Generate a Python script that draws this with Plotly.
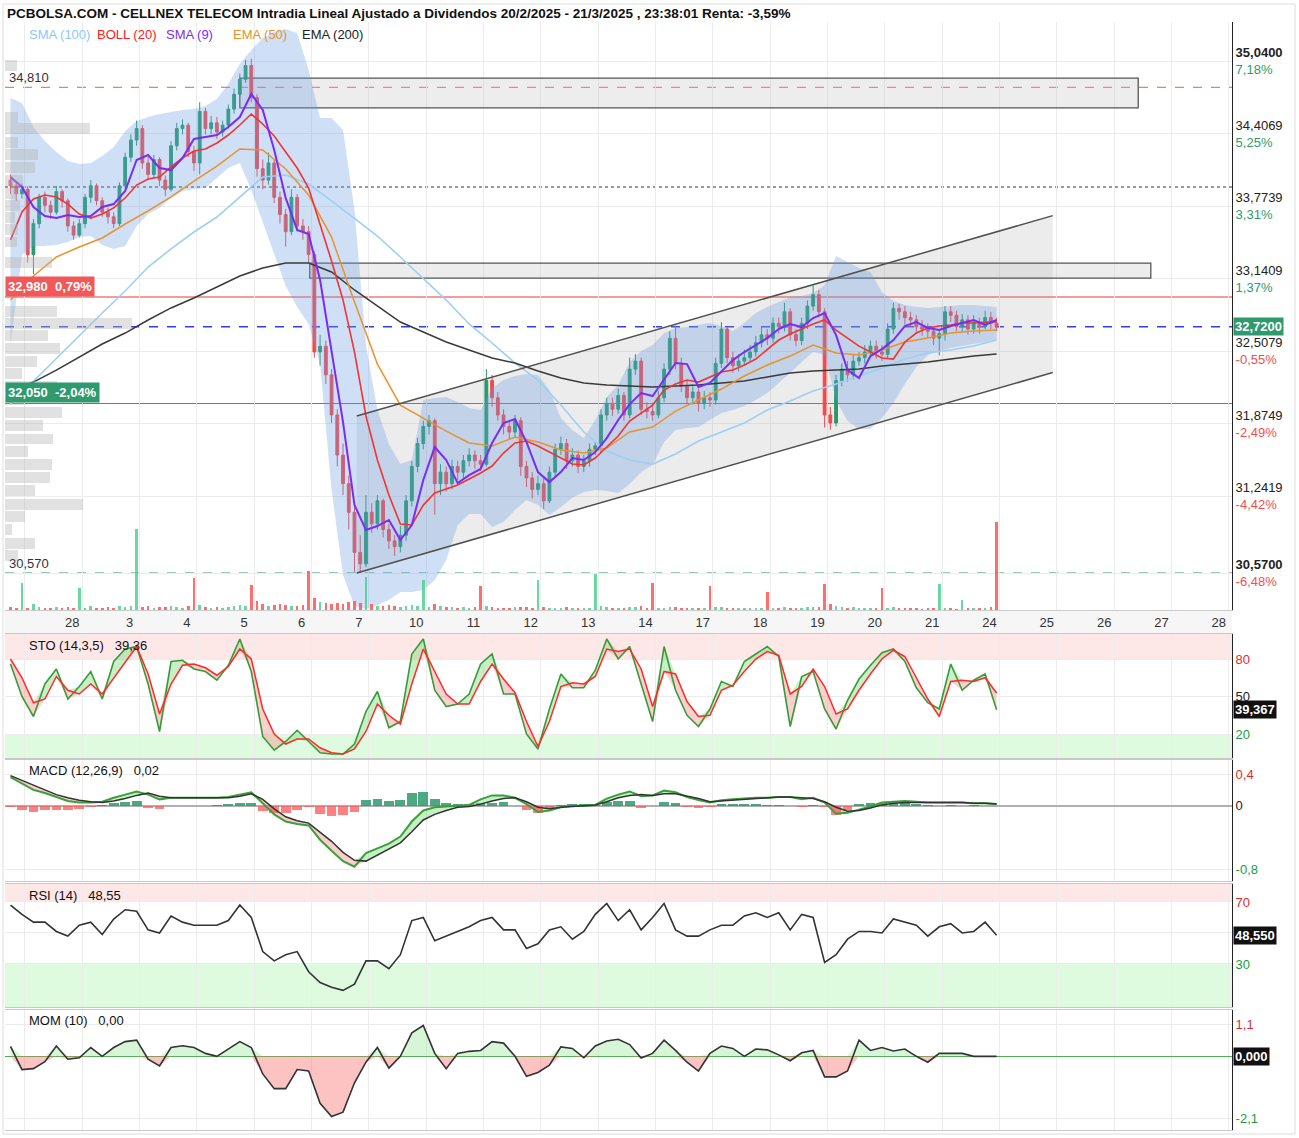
import plotly.graph_objects as go

# ---------------- data ----------------
day_labels = ["28", "3", "4", "5", "6", "7", "10", "11", "12", "13", "14",
              "17", "18", "19", "20", "21", "24", "25", "26", "27", "28"]

first_open = 34.00
close = [33.95, 33.88, 33.92, 33.35, 33.62, 33.85, 33.78, 33.72, 33.90, 33.82,
         33.60, 33.52, 33.62, 33.85, 33.95, 33.82, 33.72, 33.68, 33.62, 33.95,
         34.20, 34.35, 34.45, 34.15, 34.05, 34.18, 34.00, 33.92, 34.30, 34.45,
         34.48, 34.25, 34.15, 34.60, 34.45, 34.50, 34.42, 34.48, 34.62, 34.75,
         34.88, 35.00, 34.72, 34.10, 34.00, 34.15, 33.85, 33.70, 33.55, 33.85,
         33.60, 33.55, 33.35, 32.50, 32.55, 32.30, 31.95, 31.60, 31.35, 31.10,
         30.75, 30.65, 31.10, 31.00, 31.20, 30.95, 30.85, 30.80, 30.90, 31.20,
         31.50, 31.70, 31.85, 31.90, 31.35, 31.45, 31.35, 31.50, 31.45, 31.55,
         31.60, 31.55, 31.52, 32.25, 32.10, 31.95, 31.85, 31.80, 31.90, 31.50,
         31.40, 31.30, 31.35, 31.20, 31.45, 31.65, 31.70, 31.55, 31.60, 31.50,
         31.55, 31.65, 31.68, 31.95, 32.05, 32.00, 32.12, 31.95, 32.35, 32.42,
         32.00, 31.98, 31.95, 32.10, 32.35, 32.62, 32.40, 32.20, 32.10, 32.15,
         32.05, 32.10, 32.08, 32.40, 32.70, 32.45, 32.38, 32.42, 32.45, 32.50,
         32.58, 32.65, 32.62, 32.75, 32.72, 32.85, 32.65, 32.60, 32.75, 32.90,
         33.00, 32.85, 31.95, 31.88, 32.25, 32.35, 32.30, 32.42, 32.45, 32.50,
         32.55, 32.50, 32.48, 32.70, 32.88, 32.85, 32.80, 32.78, 32.72, 32.70,
         32.68, 32.62, 32.66, 32.85, 32.82, 32.72, 32.78, 32.70, 32.76, 32.72,
         32.80, 32.75, 32.72]
high = [34.05, 33.98, 33.97, 33.95, 33.66, 33.88, 33.90, 33.82, 33.95, 33.92,
        33.84, 33.64, 33.66, 33.88, 34.00, 33.97, 33.85, 33.76, 33.72, 33.98,
        34.24, 34.40, 34.52, 34.48, 34.20, 34.22, 34.20, 34.04, 34.34, 34.50,
        34.53, 34.50, 34.30, 34.68, 34.63, 34.56, 34.55, 34.52, 34.66, 34.80,
        34.93, 35.05, 35.06, 34.75, 34.18, 34.24, 34.18, 33.90, 33.75, 33.92,
        33.88, 33.66, 33.60, 33.38, 32.65, 32.60, 32.35, 32.00, 31.70, 31.42,
        31.15, 30.90, 31.25, 31.18, 31.25, 31.22, 31.00, 30.90, 30.98, 31.25,
        31.55, 31.75, 31.90, 31.95, 31.92, 31.52, 31.50, 31.56, 31.55, 31.60,
        31.66, 31.64, 31.60, 32.35, 32.30, 32.15, 32.00, 31.90, 31.95, 31.93,
        31.55, 31.45, 31.42, 31.40, 31.50, 31.70, 31.76, 31.74, 31.66, 31.64,
        31.60, 31.70, 31.72, 32.00, 32.10, 32.10, 32.18, 32.15, 32.45, 32.48,
        32.45, 32.06, 32.04, 32.16, 32.40, 32.68, 32.73, 32.45, 32.25, 32.20,
        32.18, 32.16, 32.15, 32.45, 32.76, 32.72, 32.50, 32.48, 32.52, 32.56,
        32.64, 32.72, 32.70, 32.80, 32.80, 32.93, 32.88, 32.70, 32.80, 32.95,
        33.08, 33.04, 32.88, 32.02, 32.30, 32.40, 32.42, 32.48, 32.50, 32.56,
        32.60, 32.60, 32.56, 32.75, 32.93, 32.92, 32.90, 32.85, 32.82, 32.78,
        32.75, 32.72, 32.70, 32.90, 32.90, 32.86, 32.83, 32.82, 32.82, 32.80,
        32.86, 32.85, 32.80]
low = [33.88, 33.82, 33.84, 33.28, 33.18, 33.58, 33.72, 33.66, 33.70, 33.76,
       33.55, 33.48, 33.50, 33.58, 33.80, 33.78, 33.68, 33.62, 33.58, 33.60,
       33.92, 34.16, 34.30, 34.10, 34.00, 34.02, 33.95, 33.86, 33.90, 34.26,
       34.40, 34.20, 34.08, 34.05, 34.40, 34.40, 34.36, 34.38, 34.45, 34.58,
       34.72, 34.85, 34.68, 34.03, 33.92, 33.96, 33.80, 33.62, 33.42, 33.52,
       33.55, 33.48, 33.28, 32.45, 32.38, 32.22, 31.88, 31.50, 31.25, 30.95,
       30.58, 30.57, 30.62, 30.92, 30.95, 30.88, 30.78, 30.72, 30.75, 30.85,
       31.15, 31.45, 31.65, 31.78, 31.08, 31.25, 31.28, 31.30, 31.38, 31.40,
       31.50, 31.48, 31.46, 31.50, 32.02, 31.90, 31.78, 31.74, 31.75, 31.42,
       31.32, 31.22, 31.25, 31.13, 31.18, 31.40, 31.60, 31.48, 31.50, 31.44,
       31.45, 31.50, 31.60, 31.62, 31.90, 31.94, 31.96, 31.90, 31.92, 32.30,
       31.95, 31.92, 31.90, 31.92, 32.06, 32.30, 32.35, 32.15, 32.05, 32.04,
       31.98, 32.00, 32.02, 32.04, 32.36, 32.40, 32.32, 32.33, 32.38, 32.42,
       32.46, 32.54, 32.56, 32.58, 32.66, 32.68, 32.60, 32.55, 32.56, 32.70,
       32.86, 32.80, 31.84, 31.82, 31.85, 32.20, 32.24, 32.26, 32.38, 32.40,
       32.46, 32.44, 32.42, 32.44, 32.66, 32.78, 32.74, 32.72, 32.66, 32.64,
       32.62, 32.56, 32.47, 32.60, 32.76, 32.68, 32.68, 32.65, 32.66, 32.66,
       32.70, 32.70, 32.68]
volume = [30, 25, 270, 20, 60, 35, 25, 20, 30, 25,
          30, 25, 220, 25, 40, 20, 25, 30, 20, 45,
          35, 40, 810, 30, 45, 25, 30, 35, 40, 30,
          25, 40, 320, 50, 30, 25, 30, 20, 35, 45,
          50, 40, 250, 90, 60, 45, 55, 60, 50, 45,
          40, 55, 390, 120, 80, 70, 60, 75, 65, 80,
          90, 70, 330, 60, 45, 40, 50, 45, 35, 40,
          50, 40, 300, 30, 60, 40, 35, 30, 25, 30,
          25, 30, 240, 45, 30, 25, 20, 25, 30, 35,
          30, 25, 300, 30, 25, 20, 25, 30, 20, 25,
          25, 20, 360, 40, 30, 25, 20, 25, 35, 30,
          45, 25, 270, 20, 25, 30, 35, 25, 20, 25,
          20, 25, 240, 30, 35, 25, 20, 25, 20, 25,
          25, 20, 180, 20, 25, 30, 25, 20, 25, 30,
          35, 30, 260, 60, 45, 30, 25, 30, 25, 20,
          20, 25, 220, 20, 30, 25, 20, 25, 20, 15,
          20, 25, 260, 25, 20, 15, 100, 20, 25, 20,
          25, 30, 880]

# volume-at-price profile (left side)
profile_price = [35.00, 34.55, 34.45, 34.33, 34.22, 34.11, 34.00, 33.88, 33.78, 33.67,
                 33.57, 33.46, 33.28, 32.85, 32.75, 32.64, 32.53, 32.42, 32.31, 32.20,
                 32.08, 31.97, 31.86, 31.74, 31.63, 31.52, 31.40, 31.29, 31.17, 31.06,
                 30.95, 30.83, 30.72]
profile_vol = [12, 13, 85, 13, 33, 30, 18, 12, 15, 10,
               13, 12, 47, 52, 127, 43, 55, 32, 17, 52,
               20, 57, 38, 48, 23, 47, 45, 30, 78, 20,
               7, 30, 13]

# moving averages read every 4 bars
sma100 = [32.045, 32.246, 32.447, 32.639, 32.840, 33.032, 33.241, 33.399, 33.547, 33.678,
          33.853, 34.027, 34.045, 33.966, 33.818, 33.669, 33.512, 33.329, 33.145, 32.953,
          32.744, 32.578, 32.403, 32.255, 32.036, 31.801, 31.635, 31.556, 31.521, 31.609,
          31.722, 31.801, 31.879, 31.993, 32.071, 32.159, 32.220, 32.290, 32.359, 32.438,
          32.490, 32.517, 32.552, 32.604]
ema200 = [32.159, 32.237, 32.342, 32.456, 32.569, 32.665, 32.779, 32.884, 32.971, 33.067,
          33.163, 33.233, 33.277, 33.277, 33.198, 33.041, 32.901, 32.761, 32.674, 32.587,
          32.517, 32.447, 32.403, 32.333, 32.272, 32.229, 32.211, 32.202, 32.194, 32.202,
          32.211, 32.229, 32.246, 32.281, 32.316, 32.333, 32.342, 32.351, 32.377, 32.394,
          32.412, 32.438, 32.464, 32.482]
ema50 = [32.953, 33.163, 33.329, 33.416, 33.495, 33.617, 33.731, 33.853, 33.992, 34.123,
         34.272, 34.263, 34.097, 33.870, 33.503, 32.936, 32.394, 32.036, 31.923, 31.809,
         31.705, 31.679, 31.757, 31.713, 31.644, 31.618, 31.661, 31.801, 31.844, 31.984,
         32.080, 32.176, 32.290, 32.386, 32.464, 32.560, 32.490, 32.473, 32.517, 32.587,
         32.622, 32.665, 32.683, 32.691]

# read every 2 bars
sma9 = [34.027, 33.940, 33.765, 33.687, 33.669, 33.695, 33.678, 33.687, 33.765, 33.791,
        33.905, 34.176, 34.219, 34.106, 34.088, 34.193, 34.359, 34.376, 34.394, 34.464,
        34.551, 34.752, 34.612, 34.263, 33.844, 33.565, 33.530, 33.128, 32.517, 31.888,
        31.164, 30.945, 30.980, 31.033, 30.858, 30.989, 31.382, 31.670, 31.556, 31.355,
        31.425, 31.478, 31.705, 31.879, 31.914, 31.713, 31.451, 31.364, 31.451, 31.574,
        31.556, 31.626, 31.748, 31.906, 32.045, 32.141, 32.115, 32.255, 32.403, 32.394,
        32.194, 32.229, 32.325, 32.429, 32.499, 32.560, 32.621, 32.700, 32.744, 32.717,
        32.796, 32.839, 32.647, 32.342, 32.272, 32.464, 32.525, 32.604, 32.726, 32.761,
        32.709, 32.691, 32.726, 32.752, 32.779, 32.735, 32.779]
boll_mid = [33.477, 33.722, 33.835, 33.870, 33.853, 33.791, 33.704, 33.669, 33.704, 33.757,
            33.844, 33.957, 34.010, 34.027, 34.115, 34.193, 34.254, 34.272, 34.324, 34.394,
            34.481, 34.577, 34.490, 34.385, 34.245, 34.106, 33.931, 33.617, 33.294, 32.953,
            32.499, 31.941, 31.556, 31.251, 30.998, 30.989, 31.163, 31.268, 31.303, 31.338,
            31.390, 31.443, 31.504, 31.617, 31.705, 31.722, 31.679, 31.626, 31.574, 31.521,
            31.513, 31.574, 31.670, 31.766, 31.897, 31.967, 32.036, 32.167, 32.220, 32.255,
            32.237, 32.281, 32.325, 32.342, 32.386, 32.438, 32.517, 32.604, 32.656, 32.700,
            32.744, 32.779, 32.691, 32.621, 32.551, 32.499, 32.447, 32.438, 32.587, 32.665,
            32.709, 32.726, 32.735, 32.752, 32.752, 32.761, 32.761]
boll_up = [34.717, 34.673, 34.464, 34.341, 34.246, 34.167, 34.141, 34.150, 34.211, 34.289,
           34.429, 34.516, 34.551, 34.577, 34.595, 34.612, 34.621, 34.647, 34.708, 34.839,
           35.014, 35.136, 35.241, 35.293, 35.319, 35.285, 34.961, 34.542, 34.542, 34.437,
           33.739, 32.560, 31.993, 31.696, 31.521, 31.556, 32.080, 32.098, 32.106, 32.063,
           32.010, 31.993, 32.185, 32.255, 32.290, 32.307, 32.298, 32.167, 31.923, 31.818,
           31.748, 31.906, 32.106, 32.211, 32.412, 32.508, 32.560, 32.665, 32.709, 32.717,
           32.735, 32.752, 32.726, 32.683, 32.752, 32.840, 32.892, 32.936, 32.979, 32.988,
           33.014, 33.084, 33.337, 33.285, 33.233, 33.198, 33.023, 32.944, 32.909, 32.892,
           32.883, 32.892, 32.901, 32.909, 32.909, 32.901, 32.892]
boll_low = [32.560, 33.346, 33.425, 33.425, 33.433, 33.459, 33.503, 33.512, 33.433, 33.399,
            33.425, 33.599, 33.704, 33.757, 33.844, 33.905, 33.922, 33.931, 34.019, 34.106,
            34.150, 33.914, 33.634, 33.346, 33.076, 32.892, 32.744, 32.394, 31.294, 30.552,
            30.281, 30.255, 30.290, 30.334, 30.404, 30.404, 30.421, 30.509, 30.683, 30.989,
            31.085, 31.085, 30.971, 31.015, 31.120, 31.207, 31.163, 31.076, 31.146, 31.224,
            31.277, 31.294, 31.286, 31.268, 31.347, 31.451, 31.513, 31.714, 31.818, 31.836,
            31.844, 31.906, 31.967, 31.993, 32.028, 32.080, 32.141, 32.229, 32.316, 32.412,
            32.499, 32.473, 32.080, 31.897, 31.827, 31.827, 31.923, 32.054, 32.220, 32.368,
            32.473, 32.508, 32.534, 32.552, 32.569, 32.587, 32.604]

sto_k = [76, 50, 34, 60, 72, 48, 58, 70, 48, 78,
         88, 90, 60, 22, 78, 79, 72, 70, 63, 75,
         96, 70, 18, 7, 14, 23, 14, 5, 4, 4,
         12, 38, 54, 25, 30, 84, 96, 55, 42, 44,
         52, 76, 84, 52, 52, 20, 8, 40, 68, 57,
         57, 71, 96, 80, 90, 60, 30, 90, 55, 35,
         26, 40, 62, 58, 78, 84, 90, 82, 26, 66,
         70, 40, 24, 47, 64, 75, 85, 88, 78, 57,
         45, 40, 76, 55, 63, 68, 39.367]
sto_d = [80, 65, 45, 48, 66, 55, 52, 60, 52, 65,
         78, 90, 68, 36, 60, 75, 76, 73, 67, 74,
         88, 80, 40, 20, 12, 16, 16, 9, 5, 4,
         8, 22, 44, 35, 28, 60, 88, 70, 52, 44,
         44, 62, 76, 64, 53, 30, 10, 30, 58, 61,
         60, 66, 88, 86, 88, 72, 42, 70, 68, 46,
         34, 35, 55, 59, 70, 80, 86, 83, 52, 58,
         72, 58, 36, 40, 55, 68, 80, 87, 82, 65,
         48, 34, 62, 63, 62, 65, 52.8]
macd_line = [0.36, 0.28, 0.20, 0.16, 0.11, 0.06, 0.04, 0.04, 0.05, 0.10,
             0.14, 0.18, 0.14, 0.08, 0.10, 0.10, 0.10, 0.10, 0.10, 0.11,
             0.14, 0.17, 0.03, -0.11, -0.20, -0.23, -0.25, -0.43, -0.57, -0.70,
             -0.77, -0.60, -0.54, -0.48, -0.39, -0.20, -0.06, -0.02, -0.01, 0.00,
             0.01, 0.08, 0.13, 0.13, 0.10, 0.02, -0.08, -0.06, -0.02, 0.00,
             0.00, 0.01, 0.09, 0.14, 0.18, 0.12, 0.13, 0.19, 0.17, 0.11,
             0.07, 0.04, 0.07, 0.08, 0.09, 0.10, 0.10, 0.11, 0.11, 0.08,
             0.10, 0.04, -0.10, -0.09, -0.05, -0.01, 0.04, 0.05, 0.06, 0.05,
             0.04, 0.04, 0.04, 0.04, 0.03, 0.03, 0.02]
macd_signal = [0.38, 0.32, 0.25, 0.19, 0.14, 0.10, 0.07, 0.05, 0.04, 0.06,
               0.09, 0.13, 0.16, 0.12, 0.10, 0.10, 0.10, 0.10, 0.10, 0.10,
               0.12, 0.15, 0.08, -0.04, -0.14, -0.19, -0.22, -0.33, -0.45, -0.59,
               -0.69, -0.70, -0.62, -0.55, -0.47, -0.33, -0.18, -0.11, -0.06, -0.02,
               -0.01, 0.02, 0.06, 0.09, 0.10, 0.05, -0.02, -0.04, -0.02, -0.01,
               0.00, 0.01, 0.05, 0.10, 0.13, 0.14, 0.13, 0.15, 0.15, 0.12,
               0.09, 0.05, 0.06, 0.07, 0.08, 0.09, 0.10, 0.11, 0.11, 0.10,
               0.09, 0.05, -0.02, -0.07, -0.06, -0.03, 0.01, 0.03, 0.04, 0.04,
               0.04, 0.04, 0.04, 0.04, 0.03, 0.03, 0.02]
macd_hist = [-0.02, -0.06, -0.08, -0.06, -0.05, -0.05, -0.04, -0.02, 0.01, 0.04,
             0.05, 0.06, -0.03, -0.04, 0.0, 0.0, 0.0, 0.0, 0.01, 0.02,
             0.03, 0.03, -0.07, -0.09, -0.09, -0.06, -0.02, -0.10, -0.13, -0.12,
             -0.08, 0.07, 0.08, 0.06, 0.07, 0.16, 0.17, 0.08, 0.04, 0.02,
             0.02, 0.03, 0.03, 0.05, 0.0, -0.05, -0.09, -0.03, 0.01, 0.02,
             0.02, 0.01, 0.05, 0.06, 0.06, -0.03, 0.0, 0.05, 0.03, -0.02,
             -0.03, -0.02, 0.02, 0.02, 0.02, 0.02, 0.01, 0.01, 0.0, -0.02,
             0.01, -0.02, -0.12, -0.06, 0.02, 0.03, 0.04, 0.03, 0.03, 0.02,
             0.01, 0.0, 0.01, 0.0, 0.01, 0.0, 0.0]
rsi = [68, 62, 57, 57, 51, 48, 55, 57, 49, 59,
       65, 64, 52, 50, 61, 57, 55, 55, 55, 58,
       68, 60, 38, 32, 36, 38, 25, 18, 15, 13,
       17, 32, 32, 27, 36, 58, 60, 45, 48, 51,
       54, 58, 60, 52, 52, 40, 43, 52, 54, 46,
       51, 62, 69, 58, 65, 52, 60, 69, 52, 48,
       48, 52, 55, 55, 61, 63, 60, 63, 52, 62,
       60, 31, 36, 46, 51, 51, 50, 59, 57, 55,
       48, 54, 56, 50, 51, 57, 48.55]
mom = [0.34, -0.45, -0.42, -0.18, 0.35, -0.1, -0.05, 0.3, 0.0, 0.3,
       0.5, 0.55, -0.1, -0.33, 0.3, 0.36, 0.3, 0.1, 0.0, 0.25,
       0.5, 0.3, -0.6, -1.1, -1.1, -0.45, -0.5, -1.6, -2.05, -1.9,
       -0.9, -0.2, 0.3, -0.4, 0.0, 0.8, 1.05, 0.1, -0.42, 0.1,
       0.17, 0.2, 0.5, 0.45, 0.0, -0.68, -0.55, -0.3, 0.32, 0.27,
       -0.05, 0.35, 0.52, 0.58, 0.4, -0.06, 0.1, 0.55, 0.2, -0.2,
       -0.5, 0.1, 0.35, 0.27, 0.0, 0.25, 0.22, 0.05, -0.15, 0.12,
       0.2, -0.7, -0.7, -0.5, 0.55, 0.2, 0.3, 0.18, 0.25, 0.0,
       -0.2, 0.1, 0.1, 0.1, 0.0, 0.0, 0.0]

# drawings on the chart (bar index, price)
rect_top_x = [40.0, 196.7]
rect_top_y = [34.63, 34.89]
rect_mid_x = [52.2, 198.9]
rect_mid_y = [33.145, 33.276]
channel_x = [60.4, 181.8]
channel_upper = [31.94, 33.69]
channel_lower = [30.57, 32.32]

level_resist_dash = 34.81
level_dotted = 33.94
level_red = 32.98
level_last = 32.72
level_green = 32.05
level_support_dash = 30.57

price_ticks = [35.04, 34.4069, 33.7739, 33.1409, 32.5079, 31.8749, 31.2419, 30.57]
price_labels = ["35,0400", "34,4069", "33,7739", "33,1409", "32,5079", "31,8749", "31,2419", "30,5700"]
pct_labels = ["7,18%", "5,25%", "3,31%", "1,37%", "-0,55%", "-2,49%", "-4,42%", "-6,48%"]

# ---------------- figure ----------------
FONT = "Liberation Sans, Arial, sans-serif"
W, H = 1299, 1138
ML, MR, MT, MB = 5, 67, 22, 8
PW, PH = W - ML - MR, H - MT - MB
GREEN = "#27996a"
RED = "#f24a4a"
TXT = "#222222"
GRID = "#ececec"


def prow(y):  # pixel row -> paper fraction
    return (H - MB - y) / PH


def pcol(x):  # pixel column -> paper fraction
    return (x - ML) / PW


n = len(close)
xb = list(range(n))
opens = [first_open] + close[:-1]
g2 = list(range(0, n, 2))
g4 = list(range(0, n, 4))

fig = go.Figure()

# Bollinger band
fig.add_trace(go.Scatter(x=g2, y=boll_up, mode="lines", line=dict(width=0), hoverinfo="skip"))
fig.add_trace(go.Scatter(x=g2, y=boll_low, mode="lines", line=dict(width=0), fill="tonexty",
                         fillcolor="rgba(105,160,228,0.32)", hoverinfo="skip"))
# moving averages
fig.add_trace(go.Scatter(x=g4, y=sma100, mode="lines", line=dict(color="#9dcff3", width=1.6)))
fig.add_trace(go.Scatter(x=g4, y=ema200, mode="lines", line=dict(color="#3a3a3a", width=1.5)))
fig.add_trace(go.Scatter(x=g4, y=ema50, mode="lines", line=dict(color="#e8922e", width=1.5)))
fig.add_trace(go.Scatter(x=g2, y=boll_mid, mode="lines", line=dict(color="#f03434", width=1.6)))
# candles
fig.add_trace(go.Candlestick(x=xb, open=opens, high=high, low=low, close=close,
                             increasing=dict(line=dict(color=GREEN, width=1), fillcolor=GREEN),
                             decreasing=dict(line=dict(color=RED, width=1), fillcolor=RED),
                             whiskerwidth=0))
fig.add_trace(go.Scatter(x=g2, y=sma9, mode="lines", line=dict(color="#7b2cf2", width=2)))

# volume (overlay axis)
vcol = ["rgba(70,205,140,0.8)" if c >= o else "rgba(255,85,85,0.85)" for o, c in zip(opens, close)]
fig.add_trace(go.Bar(x=xb, y=volume, marker=dict(color=vcol, line=dict(width=0)), width=0.45,
                     xaxis="x", yaxis="y6"))
# volume profile (overlay axis)
fig.add_trace(go.Bar(x=profile_vol, y=profile_price, orientation="h", width=0.095,
                     marker=dict(color="rgba(180,180,180,0.40)", line=dict(width=0)),
                     xaxis="x6", yaxis="y"))

# ---- STO ----
hi_kd = [max(k, d) for k, d in zip(sto_k, sto_d)]
lo_kd = [min(k, d) for k, d in zip(sto_k, sto_d)]
fig.add_trace(go.Scatter(x=g2, y=sto_d, mode="lines", line=dict(width=0), xaxis="x2", yaxis="y2"))
fig.add_trace(go.Scatter(x=g2, y=hi_kd, mode="lines", line=dict(width=0), fill="tonexty",
                         fillcolor="rgba(110,215,110,0.38)", xaxis="x2", yaxis="y2"))
fig.add_trace(go.Scatter(x=g2, y=sto_d, mode="lines", line=dict(width=0), xaxis="x2", yaxis="y2"))
fig.add_trace(go.Scatter(x=g2, y=lo_kd, mode="lines", line=dict(width=0), fill="tonexty",
                         fillcolor="rgba(250,110,110,0.32)", xaxis="x2", yaxis="y2"))
fig.add_trace(go.Scatter(x=g2, y=sto_k, mode="lines", line=dict(color="#3a9a3a", width=1.6),
                         xaxis="x2", yaxis="y2"))
fig.add_trace(go.Scatter(x=g2, y=sto_d, mode="lines", line=dict(color="#ff2a2a", width=1.5),
                         xaxis="x2", yaxis="y2"))

# ---- MACD ----
hcol = ["rgba(46,154,110,0.85)" if v >= 0 else "rgba(255,85,85,0.75)" for v in macd_hist]
fig.add_trace(go.Bar(x=g2, y=macd_hist, marker=dict(color=hcol, line=dict(width=0)), width=1.7,
                     xaxis="x3", yaxis="y3"))
hi_ms = [max(a, b) for a, b in zip(macd_line, macd_signal)]
lo_ms = [min(a, b) for a, b in zip(macd_line, macd_signal)]
fig.add_trace(go.Scatter(x=g2, y=macd_signal, mode="lines", line=dict(width=0), xaxis="x3", yaxis="y3"))
fig.add_trace(go.Scatter(x=g2, y=hi_ms, mode="lines", line=dict(width=0), fill="tonexty",
                         fillcolor="rgba(110,215,110,0.4)", xaxis="x3", yaxis="y3"))
fig.add_trace(go.Scatter(x=g2, y=macd_signal, mode="lines", line=dict(width=0), xaxis="x3", yaxis="y3"))
fig.add_trace(go.Scatter(x=g2, y=lo_ms, mode="lines", line=dict(width=0), fill="tonexty",
                         fillcolor="rgba(250,110,110,0.35)", xaxis="x3", yaxis="y3"))
fig.add_trace(go.Scatter(x=g2, y=macd_line, mode="lines", line=dict(color="#3aa03a", width=2),
                         xaxis="x3", yaxis="y3"))
fig.add_trace(go.Scatter(x=g2, y=macd_signal, mode="lines", line=dict(color="#333333", width=1.5),
                         xaxis="x3", yaxis="y3"))

# ---- RSI ----
fig.add_trace(go.Scatter(x=g2, y=rsi, mode="lines", line=dict(color="#333333", width=1.6),
                         xaxis="x4", yaxis="y4"))

# ---- MOM ----
mom_pos = [max(v, 0) for v in mom]
mom_neg = [min(v, 0) for v in mom]
fig.add_trace(go.Scatter(x=g2, y=mom_pos, mode="lines", line=dict(width=0), fill="tozeroy",
                         fillcolor="rgba(140,230,140,0.35)", xaxis="x5", yaxis="y5"))
fig.add_trace(go.Scatter(x=g2, y=mom_neg, mode="lines", line=dict(width=0), fill="tozeroy",
                         fillcolor="rgba(250,120,120,0.45)", xaxis="x5", yaxis="y5"))
fig.add_trace(go.Scatter(x=g2, y=mom, mode="lines", line=dict(color="#333333", width=1.6),
                         xaxis="x5", yaxis="y5"))

# ---------------- axes ----------------
xr = [-0.96, 213.06]
tickvals = [12.5 + 10 * i for i in range(-1, len(day_labels))]
ticktext = [""] + day_labels

xbase = dict(range=xr, tickvals=tickvals, showgrid=True, gridcolor=GRID, zeroline=False,
             ticks="", fixedrange=True, rangeslider=dict(visible=False))

main_tt = []
for i, (pl, pc) in enumerate(zip(price_labels, pct_labels)):
    col = "#2e9a6e" if not pc.startswith("-") else "#f05050"
    p = f"<b>{pl}</b>" if i in (0, len(price_labels) - 1) else pl
    main_tt.append(f"{p}<br><span style='color:{col}'>{pc}</span>")


def colored(t, c):
    return f"<span style='color:{c}'>{t}</span>"


ybase = dict(side="right", showgrid=True, gridcolor=GRID, zeroline=False, ticks="",
             showline=True, linecolor="#222", linewidth=1, tickfont=dict(size=13, color=TXT),
             fixedrange=True)

layout = dict(
    width=W, height=H, margin=dict(l=ML, r=MR, t=MT, b=MB),
    paper_bgcolor="white", plot_bgcolor="white", showlegend=False,
    font=dict(family=FONT, size=13, color=TXT), bargap=0,
    xaxis=dict(xbase, domain=[0, 1], anchor="y", showticklabels=True, ticktext=ticktext,
               ticklabelshift=-10, tickfont=dict(size=13, color="#333"),
               showline=True, linecolor="#cccccc"),
    xaxis2=dict(xbase, domain=[0, 1], anchor="y2", showticklabels=False, matches="x",
                showline=True, linecolor="#c8c8c8", mirror=True),
    xaxis3=dict(xbase, domain=[0, 1], anchor="y3", showticklabels=False, matches="x",
                showline=True, linecolor="#c8c8c8", mirror=True),
    xaxis4=dict(xbase, domain=[0, 1], anchor="y4", showticklabels=False, matches="x",
                showline=True, linecolor="#c8c8c8", mirror=True),
    xaxis5=dict(xbase, domain=[0, 1], anchor="y5", showticklabels=False, matches="x",
                showline=True, linecolor="#c8c8c8", mirror=True),
    xaxis6=dict(overlaying="x", anchor="y", range=[0, PW], visible=False, fixedrange=True),
    yaxis=dict(ybase, domain=[prow(610), 1], anchor="x", range=[30.247, 35.3805],
               tickvals=price_ticks, ticktext=main_tt),
    yaxis6=dict(overlaying="y", anchor="x", range=[0, 5880], visible=False, fixedrange=True),
    yaxis2=dict(ybase, domain=[prow(758), prow(634)], anchor="x2", range=[0.8, 100],
                tickvals=[80, 50, 20],
                ticktext=[colored("80", "#e02a2a"), "50", colored("20", "#1f9a3a")]),
    yaxis3=dict(ybase, domain=[prow(881), prow(760)], anchor="x3", range=[-0.951, 0.577],
                tickvals=[0.4, 0, -0.8],
                ticktext=[colored("0,4", "#e02a2a"), "0", colored("-0,8", "#1f9a3a")],
                zeroline=True, zerolinecolor="#b0b0b0", zerolinewidth=1.5),
    yaxis4=dict(ybase, domain=[prow(1007), prow(884)], anchor="x4", range=[2.25, 81.6],
                tickvals=[70, 50, 30],
                ticktext=[colored("70", "#e02a2a"), "", colored("30", "#1f9a3a")]),
    yaxis5=dict(ybase, domain=[0, prow(1010)], anchor="x5", range=[-2.508, 1.577],
                tickvals=[1.1, 0, -2.1],
                ticktext=[colored("1,1", "#e02a2a"), "", colored("-2,1", "#1f9a3a")],
                zeroline=True, zerolinecolor="#4caf50", zerolinewidth=1.3),
)
fig.update_layout(**layout)

# ---------------- shapes ----------------
shapes = []
# x tick strip and outer frame
shapes.append(dict(type="rect", xref="paper", yref="paper", x0=pcol(ML), x1=1,
                   y0=prow(634), y1=prow(610), fillcolor="#f6f6f6", line=dict(width=0), layer="below"))
shapes.append(dict(type="rect", xref="paper", yref="paper", x0=pcol(3), x1=pcol(1295),
                   y0=prow(1134), y1=prow(4), fillcolor="rgba(0,0,0,0)",
                   line=dict(color="#dddddd", width=1), layer="above"))
# oscillator zones
shapes.append(dict(type="rect", xref="x2 domain", yref="y2", x0=0, x1=1, y0=80, y1=100,
                   fillcolor="#fde7e7", line=dict(width=0), layer="below"))
shapes.append(dict(type="rect", xref="x2 domain", yref="y2", x0=0, x1=1, y0=0.8, y1=20,
                   fillcolor="#dffbdf", line=dict(width=0), layer="below"))
shapes.append(dict(type="rect", xref="x4 domain", yref="y4", x0=0, x1=1, y0=70, y1=81.6,
                   fillcolor="#fde7e7", line=dict(width=0), layer="below"))
shapes.append(dict(type="rect", xref="x4 domain", yref="y4", x0=0, x1=1, y0=2.25, y1=30,
                   fillcolor="#dffbdf", line=dict(width=0), layer="below"))
# channel
path = (f"M {channel_x[0]},{channel_lower[0]} L {channel_x[1]},{channel_lower[1]} "
        f"L {channel_x[1]},{channel_upper[1]} L {channel_x[0]},{channel_upper[0]} Z")
shapes.append(dict(type="path", xref="x", yref="y", path=path,
                   fillcolor="rgba(160,160,160,0.2)", line=dict(width=0), layer="between"))
shapes.append(dict(type="line", xref="x", yref="y", x0=channel_x[0], x1=channel_x[1],
                   y0=channel_upper[0], y1=channel_upper[1], line=dict(color="#505050", width=1.5)))
shapes.append(dict(type="line", xref="x", yref="y", x0=channel_x[0], x1=channel_x[1],
                   y0=channel_lower[0], y1=channel_lower[1], line=dict(color="#505050", width=1.5)))
# rectangles
for rx, ry in ((rect_top_x, rect_top_y), (rect_mid_x, rect_mid_y)):
    shapes.append(dict(type="rect", xref="x", yref="y", x0=rx[0], x1=rx[1], y0=ry[0], y1=ry[1],
                       fillcolor="rgba(190,190,190,0.28)", line=dict(color="#555555", width=1.3),
                       layer="between"))
# horizontal levels
for lvl, col, dash, wd in ((level_resist_dash, "#f07a7a", "dash", 1.3),
                           (level_dotted, "#333333", "dot", 1.2),
                           (level_red, "#f07a7a", "solid", 1.5),
                           (level_last, "#2f3cf0", "dash", 1.5),
                           (level_green, "#2e9a6e", "solid", 1.2),
                           (level_support_dash, "#2e9a6e", "dash", 1.2)):
    shapes.append(dict(type="line", xref="paper", yref="y", x0=0, x1=1, y0=lvl, y1=lvl,
                       line=dict(color=col, width=wd, dash=dash), layer="between"))
fig.update_layout(shapes=shapes)

# ---------------- annotations ----------------
ann = []
ann.append(dict(xref="paper", yref="paper", x=pcol(5), y=prow(14), xanchor="left", yanchor="middle",
                showarrow=False, font=dict(size=13.5, color="#111", family=FONT),
                text="<b>PCBOLSA.COM - CELLNEX TELECOM Intradia Lineal Ajustado a Dividendos "
                     "20/2/2025 - 21/3/2025 , 23:38:01 Renta: -3,59%</b>"))
for txt, col, px in (("SMA (100)", "#8ec8f2", 27), ("BOLL (20)", "#ff2020", 95),
                     ("SMA (9)", "#7b2cf2", 164), ("EMA (50)", "#e8902a", 231),
                     ("EMA (200)", "#222222", 300)):
    ann.append(dict(xref="paper", yref="paper", x=pcol(px), y=prow(34), xanchor="left",
                    yanchor="middle", showarrow=False, text=txt, font=dict(size=13, color=col)))
NB = "\u00a0"
for txt, ry in ((f"STO (14,3,5){NB*3}39,36", 645), (f"MACD (12,26,9){NB*3}0,02", 770),
                (f"RSI (14){NB*3}48,55", 895), (f"MOM (10){NB*3}0,00", 1020)):
    ann.append(dict(xref="paper", yref="paper", x=pcol(27), y=prow(ry), xanchor="left",
                    yanchor="middle", showarrow=False, text=txt, font=dict(size=13, color="#111")))
# level labels (left)
ann.append(dict(xref="paper", yref="y", x=pcol(7), y=level_resist_dash, xanchor="left",
                yanchor="bottom", showarrow=False, text="34,810", font=dict(size=13, color="#333")))
ann.append(dict(xref="paper", yref="y", x=pcol(7), y=level_support_dash, xanchor="left",
                yanchor="bottom", showarrow=False, text="30,570", font=dict(size=13, color="#333")))
ann.append(dict(xref="paper", yref="y", x=0, y=level_red, xanchor="left", yanchor="bottom",
                showarrow=False, text=f"<b>32,980{NB*2}0,79%</b>", bgcolor="#f25858",
                font=dict(size=13, color="white"), borderpad=2))
ann.append(dict(xref="paper", yref="y", x=0, y=level_green, xanchor="left", yanchor="bottom",
                showarrow=False, text=f"<b>32,050{NB*2}-2,04%</b>", bgcolor="#2e9a6e",
                font=dict(size=13, color="white"), borderpad=2))
# right value boxes
for txt, yr, yv, bg in (("32,7200", "y", level_last, "#2e9a6e"), ("39,367", "y2", 39.367, "#111111"),
                        ("48,550", "y4", 48.55, "#111111"), ("0,000", "y5", 0.0, "#111111")):
    ann.append(dict(xref="paper", yref=yr, x=1, y=yv, xanchor="left", yanchor="middle",
                    xshift=1, showarrow=False, text=f"<b>{txt}</b>", bgcolor=bg,
                    font=dict(size=13, color="white"), borderpad=1))
fig.update_layout(annotations=ann)

fig.write_html("out.html")
